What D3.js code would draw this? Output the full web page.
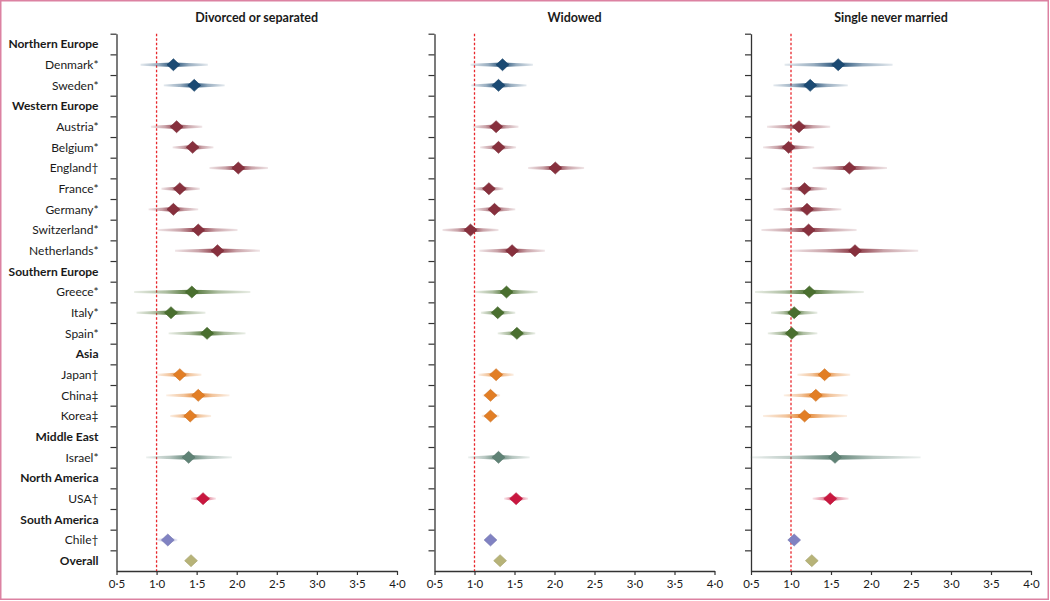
<!DOCTYPE html>
<html>
<head>
<meta charset="utf-8">
<script src="https://cdn.jsdelivr.net/npm/d3@7"></script>
<style>
  html, body { margin: 0; padding: 0; background: #fff; }
  svg { display: block; }
  text { font-family: Lato, "Open Sans", sans-serif; fill: #1a1a1a; }
</style>
</head>
<body>
<svg id="chart" width="1050" height="601"></svg>
<script>
// ---------- DATA ----------
const rows = ["Northern Europe","Denmark*","Sweden*","Western Europe","Austria*","Belgium*","England†","France*","Germany*","Switzerland*","Netherlands*","Southern Europe","Greece*","Italy*","Spain*","Asia","Japan†","China‡","Korea‡","Middle East","Israel*","North America","USA†","South America","Chile†","Overall"];
const headers = ["Northern Europe","Western Europe","Southern Europe","Asia","Middle East","North America","South America","Overall"];
const countries = ["Denmark*","Sweden*","Austria*","Belgium*","England†","France*","Germany*","Switzerland*","Netherlands*","Greece*","Italy*","Spain*","Japan†","China‡","Korea‡","Israel*","USA†","Chile†","Overall"];
const regionOf = ["Northern Europe","Northern Europe","Western Europe","Western Europe","Western Europe","Western Europe","Western Europe","Western Europe","Western Europe","Southern Europe","Southern Europe","Southern Europe","Asia","Asia","Asia","Middle East","North America","South America","Overall"];
const regions = ["Northern Europe","Western Europe","Southern Europe","Asia","Middle East","North America","South America","Overall"];
const regionColors = ["#1b4a73","#87303d","#4a6f2f","#e27e25","#5f8275","#c9173f","#8082c2","#b7b378"];
const panelTitles = ["Divorced or separated","Widowed","Single never married"];

const divorcedEst = [1.21,1.47,1.25,1.45,2.02,1.29,1.21,1.52,1.76,1.44,1.18,1.63,1.29,1.52,1.42,1.40,1.58,1.14,1.43];
const divorcedLo  = [0.80,1.09,0.93,1.20,1.66,1.06,0.90,1.02,1.23,0.72,0.75,1.15,1.01,1.12,1.17,0.87,1.43,1.01,1.38];
const divorcedHi  = [1.64,1.85,1.57,1.71,2.39,1.54,1.52,2.01,2.29,2.17,1.61,2.11,1.56,1.91,1.68,1.94,1.74,1.26,1.48];

const widowedEst = [1.35,1.30,1.27,1.30,2.01,1.18,1.25,0.95,1.47,1.40,1.29,1.53,1.27,1.20,1.20,1.30,1.52,1.20,1.32];
const widowedLo  = [0.95,0.96,0.98,1.07,1.67,0.99,1.00,0.60,1.06,1.01,1.08,1.29,1.05,1.10,1.09,0.92,1.37,1.14,1.28];
const widowedHi  = [1.73,1.65,1.55,1.52,2.37,1.36,1.51,1.30,1.88,1.79,1.51,1.76,1.49,1.32,1.31,1.69,1.67,1.26,1.37];

const singleEst = [1.59,1.24,1.10,0.97,1.73,1.17,1.20,1.22,1.80,1.23,1.04,1.01,1.42,1.31,1.17,1.55,1.49,1.04,1.26];
const singleLo  = [0.92,0.78,0.70,0.65,1.27,0.88,0.78,0.63,1.00,0.55,0.75,0.71,1.08,0.91,0.65,0.49,1.27,0.97,1.21];
const singleHi  = [2.27,1.71,1.49,1.29,2.20,1.45,1.63,1.82,2.59,1.91,1.33,1.33,1.74,1.71,1.70,2.62,1.72,1.11,1.31];

const panelEst = [divorcedEst, widowedEst, singleEst];
const panelLo = [divorcedLo, widowedLo, singleLo];
const panelHi = [divorcedHi, widowedHi, singleHi];

const xTicks = [0.5,1.0,1.5,2.0,2.5,3.0,3.5,4.0];

// ---------- LAYOUT ----------
const svg = d3.select("#chart");
const defs = svg.append("defs");
const W = 1050, H = 601;
const plotTop = 33.7, plotBottom = 571;
const panelX = [[116.5, 397], [434.5, 714.5], [751, 1031]];
const labelX = 98.5;

const y = d3.scaleBand().domain(rows).range([plotTop, plotBottom]).padding(0);
const color = d3.scaleOrdinal().domain(regions).range(regionColors);

// frame
svg.append("rect").attr("x", 0.75).attr("y", 0.75).attr("width", W - 2.5).attr("height", H - 2.5)
  .attr("fill", "none").attr("stroke", "#dc82a2").attr("stroke-width", 1.5);

// row labels
svg.append("g").selectAll("text").data(rows).join("text")
  .attr("x", labelX)
  .attr("y", d => y(d) + y.bandwidth() / 2)
  .attr("dy", "0.35em")
  .attr("text-anchor", "end")
  .attr("font-size", 12)
  .attr("font-weight", d => headers.includes(d) ? 700 : 400)
  .text(d => d);

const fmt = d => d3.format(".1f")(d).replace(".", "·");

panelTitles.forEach((title, p) => {
  const x = d3.scaleLinear().domain([0.5, 4]).range(panelX[p]);
  const g = svg.append("g");

  // title
  g.append("text")
    .attr("x", (panelX[p][0] + panelX[p][1]) / 2)
    .attr("y", 22)
    .attr("text-anchor", "middle")
    .attr("font-size", 12.5)
    .attr("font-weight", 700)
    .text(title);

  // x axis
  const xAxis = d3.axisBottom(x).tickValues(xTicks).tickFormat(fmt).tickSize(4).tickSizeOuter(0);
  const ga = g.append("g").attr("transform", `translate(0,${plotBottom})`).call(xAxis);
  ga.select(".domain").attr("stroke", "#333").attr("stroke-width", 1.3);
  ga.selectAll(".tick line").attr("stroke", "#333").attr("stroke-width", 1.2);
  ga.selectAll(".tick text").attr("font-size", 11.5).attr("fill", "#1a1a1a")
    .attr("font-family", "Lato, 'Open Sans', sans-serif").attr("dy", "0.85em");

  // y axis (ticks at band boundaries)
  const yLine = d3.scaleLinear().domain([0, rows.length]).range([plotTop, plotBottom]);
  const yAxis = d3.axisLeft(yLine).tickValues(d3.range(0, rows.length)).tickFormat("").tickSize(6).tickSizeOuter(0);
  const gy = g.append("g").attr("transform", `translate(${x(0.5)},0)`).call(yAxis);
  gy.select(".domain").attr("stroke", "#333").attr("stroke-width", 1.3);
  gy.selectAll(".tick line").attr("stroke", "#333").attr("stroke-width", 1.2);

  // reference line at 1
  g.append("line")
    .attr("x1", x(1)).attr("x2", x(1))
    .attr("y1", plotTop).attr("y2", plotBottom)
    .attr("stroke", "#e8262b").attr("stroke-width", 1.3)
    .attr("stroke-dasharray", "2.5,2");

  // marks
  countries.forEach((c, i) => {
    const est = panelEst[p][i], lo = panelLo[p][i], hi = panelHi[p][i];
    const col = color(regionOf[i]);
    const cy = y(c) + y.bandwidth() / 2;
    const xl = x(lo), xc = x(est), xh = x(hi);
    const f = (xc - xl) / Math.max(xh - xl, 0.001);
    const gid = `grad-${p}-${i}`;
    const grad = defs.append("linearGradient").attr("id", gid)
      .attr("x1", 0).attr("x2", 1).attr("y1", 0).attr("y2", 0);
    grad.append("stop").attr("offset", 0).attr("stop-color", col).attr("stop-opacity", 0.12);
    grad.append("stop").attr("offset", f * 0.55).attr("stop-color", col).attr("stop-opacity", 0.45);
    grad.append("stop").attr("offset", f).attr("stop-color", col).attr("stop-opacity", 1);
    grad.append("stop").attr("offset", f + (1 - f) * 0.45).attr("stop-color", col).attr("stop-opacity", 0.45);
    grad.append("stop").attr("offset", 1).attr("stop-color", col).attr("stop-opacity", 0.12);

    const tEnd = 0.95, tMid = 2.3;
    const pts = [[xl, cy - tEnd], [xc, cy - tMid], [xh, cy - tEnd], [xh, cy + tEnd], [xc, cy + tMid], [xl, cy + tEnd]];
    g.append("path")
      .attr("d", d3.line()(pts) + "Z")
      .attr("fill", `url(#${gid})`);

    const r = 6.4, rv = 6;
    g.append("path")
      .attr("d", d3.line()([[xc - r, cy], [xc, cy - rv], [xc + r, cy], [xc, cy + rv]]) + "Z")
      .attr("fill", col)
      .attr("stroke", d3.color(col).darker(0.3))
      .attr("stroke-width", 0.6);
  });
});
</script>
</body>
</html>
